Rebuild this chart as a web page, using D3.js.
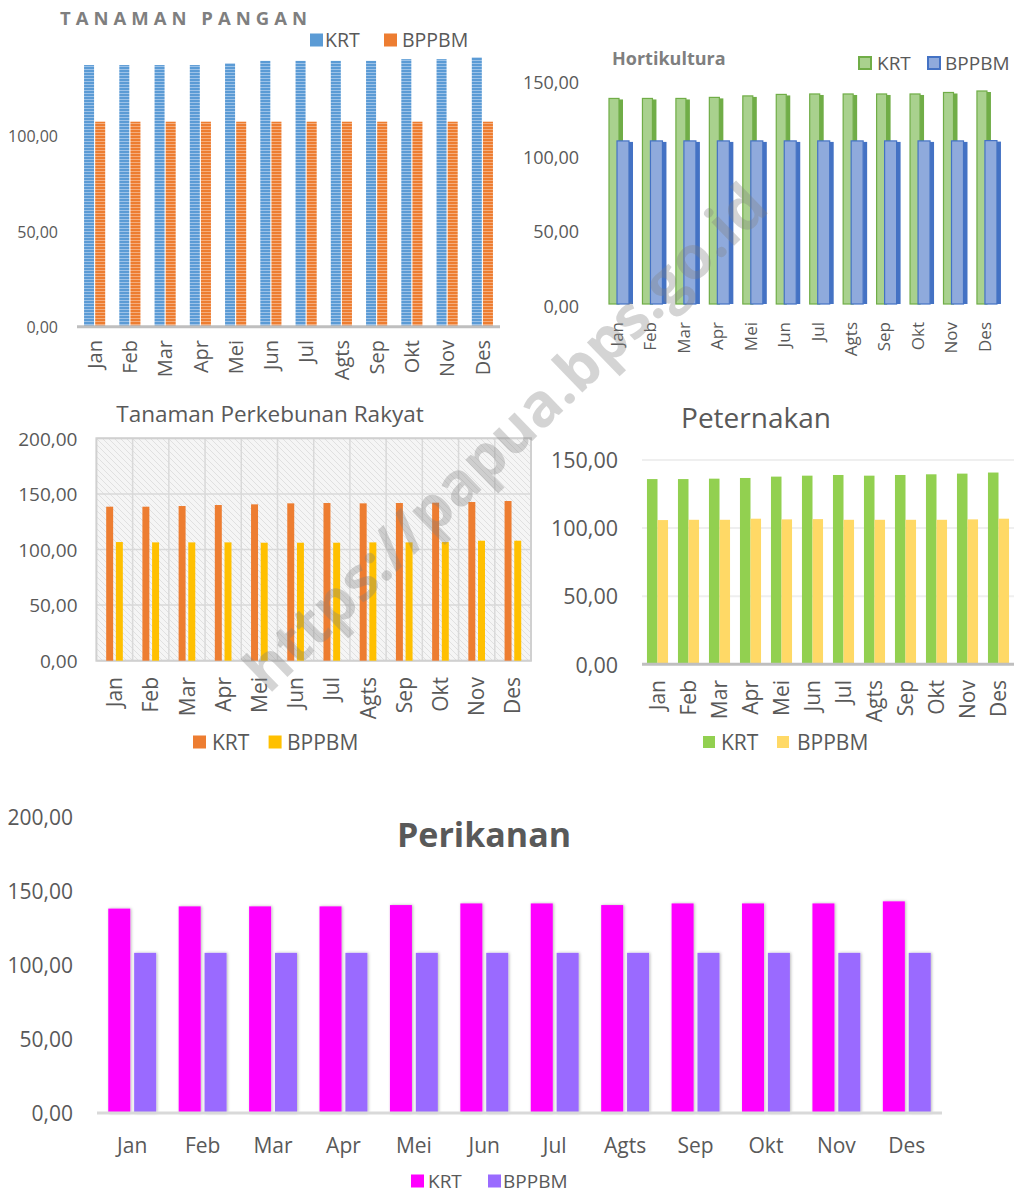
<!DOCTYPE html>
<html>
<head>
<meta charset="utf-8">
<script src="https://cdn.jsdelivr.net/npm/d3@7"></script>
<style>
  body { margin: 0; background: #fff; }
  svg { display: block; font-family: "Open Sans", sans-serif; }
</style>
</head>
<body>
<script>
'use strict'

const months = ['Jan', 'Feb', 'Mar', 'Apr', 'Mei', 'Jun', 'Jul', 'Agts', 'Sep', 'Okt', 'Nov', 'Des']
const series = ['KRT', 'BPPBM']

const panganKRT = [137.2, 137.2, 137.2, 137.2, 138.1, 139.4, 139.4, 139.4, 139.4, 140.3, 140.3, 141.2]
const panganBPPBM = [107.5, 107.5, 107.5, 107.5, 107.5, 107.5, 107.5, 107.5, 107.5, 107.5, 107.5, 107.5]
const panganTicks = [0, 50, 100]

const hortiKRT = [139.3, 139.3, 139.3, 140, 141, 142, 142.3, 142.3, 142.3, 142.3, 143.3, 144.3]
const hortiBPPBM = [110.8, 110.8, 110.8, 110.8, 110.8, 110.8, 110.8, 110.8, 110.8, 110.8, 110.8, 111]
const hortiTicks = [0, 50, 100, 150]

const kebunKRT = [138.5, 138.5, 139.1, 140, 140.6, 141.5, 141.8, 141.5, 141.8, 142.1, 142.7, 143.6]
const kebunBPPBM = [106.7, 106.4, 106.4, 106.4, 106.1, 106.1, 106.1, 106.4, 106.4, 106.7, 107.9, 107.9]
const kebunTicks = [0, 50, 100, 150, 200]

const ternakKRT = [136, 136, 136.3, 136.8, 137.8, 138.5, 139, 138.5, 139, 139.5, 140, 140.8]
const ternakBPPBM = [105.9, 106.1, 106.1, 106.9, 106.4, 106.6, 106.1, 106.1, 106.1, 106.1, 106.4, 106.9]
const ternakTicks = [0, 50, 100, 150]

const ikanKRT = [138.1, 139.6, 139.6, 139.6, 140.5, 141.6, 141.6, 140.5, 141.6, 141.6, 141.6, 143]
const ikanBPPBM = [108.2, 108.2, 108.2, 108.2, 108.2, 108.2, 108.2, 108.2, 108.2, 108.2, 108.2, 108.2]
const ikanTicks = [0, 50, 100, 150, 200]

const fmt = d3.formatLocale({ decimal: ',', thousands: '.', grouping: [3], currency: ['', ''] }).format('.2f')
const textColor = '#595959'

const svg = d3.select('body').append('svg')
    .attr('width', 1026)
    .attr('height', 1194)

const defs = svg.append('defs')

function stripes(id, base, line) {
  const p = defs.append('pattern')
      .attr('id', id)
      .attr('patternUnits', 'userSpaceOnUse')
      .attr('width', 4)
      .attr('height', 3)
  p.append('rect').attr('width', 4).attr('height', 3).attr('fill', base)
  p.append('rect').attr('width', 4).attr('height', 1).attr('fill', line)
}
stripes('stripeBlue', '#5b9bd5', '#9cc2e8')
stripes('stripeOrange', '#ed7d31', '#f5ad7c')

const hatch = defs.append('pattern')
    .attr('id', 'hatch')
    .attr('patternUnits', 'userSpaceOnUse')
    .attr('width', 6)
    .attr('height', 6)
hatch.append('rect').attr('width', 6).attr('height', 6).attr('fill', '#f5f5f5')
hatch.append('path')
    .attr('d', 'M0,0L6,6M-1,5L1,7M5,-1L7,1')
    .attr('stroke', '#e0e0e0')
    .attr('stroke-width', 1)

const soft = defs.append('filter')
    .attr('id', 'soft')
    .attr('x', '-40%').attr('y', '-10%')
    .attr('width', '180%').attr('height', '120%')
soft.append('feDropShadow')
    .attr('dx', 1).attr('dy', 0)
    .attr('stdDeviation', 1.6)
    .attr('flood-color', '#000')
    .attr('flood-opacity', 0.28)

function chart(cfg) {
  const g = svg.append('g')

  const cell = d3.scaleBand().domain(months).range([cfg.left, cfg.right])
  const x = d3.scaleBand().domain(months).range([cfg.left, cfg.right])
      .paddingInner(cfg.pad).paddingOuter(cfg.pad / 2)
  const xs = d3.scaleBand().domain(series).range([0, x.bandwidth()]).paddingInner(cfg.gap)
  const y = d3.scaleLinear().domain([0, cfg.max]).range([cfg.bottom, cfg.top])

  const rows = months.flatMap((m, i) => [
    { m, s: 'KRT', v: cfg.krt[i] },
    { m, s: 'BPPBM', v: cfg.bppbm[i] }
  ])

  if (cfg.background) cfg.background(g, cell, y)

  if (cfg.grid) {
    g.append('g').selectAll('line')
        .data(cfg.ticks.filter(t => t > 0))
      .join('line')
        .attr('x1', cfg.left).attr('x2', cfg.right)
        .attr('y1', y).attr('y2', y)
        .attr('stroke', cfg.grid)
        .attr('stroke-width', 2)
  }

  if (cfg.drawBars) {
    cfg.drawBars(g, cell, y, rows)
  } else {
    g.append('g').selectAll('rect')
        .data(rows)
      .join('rect')
        .attr('x', d => x(d.m) + xs(d.s))
        .attr('width', xs.bandwidth())
        .attr('y', d => y(d.v))
        .attr('height', d => y(0) - y(d.v))
        .attr('fill', d => cfg.fill[d.s])
        .attr('filter', cfg.filter || null)
  }

  if (cfg.baseline) {
    g.append('line')
        .attr('x1', cfg.left).attr('x2', cfg.right)
        .attr('y1', y(0)).attr('y2', y(0))
        .attr('stroke', cfg.baseline)
        .attr('stroke-width', 3)
  }

  const ya = g.append('g')
      .attr('transform', `translate(${cfg.labelX},0)`)
      .call(d3.axisLeft(y).tickValues(cfg.ticks).tickSize(0).tickPadding(0).tickFormat(fmt))
      .attr('font-family', null)
      .attr('font-size', null)
  ya.select('.domain').remove()
  ya.selectAll('text')
      .attr('fill', textColor)
      .attr('dy', '0.36em')
      .style('font-size', cfg.tickFont + 'px')

  const xa = g.append('g')
      .attr('transform', `translate(0,${cfg.xLabelY})`)
      .call(d3.axisBottom(cell).tickSize(0))
      .attr('font-family', null)
      .attr('font-size', null)
  xa.select('.domain').remove()
  const xt = xa.selectAll('text')
      .attr('fill', textColor)
      .style('font-size', cfg.xFont + 'px')
      .attr('x', 0)
      .attr('y', 0)
      .attr('dy', '0.36em')
  if (cfg.rotate) xt.attr('transform', 'rotate(-90)').attr('text-anchor', 'end')

  const t = cfg.title
  g.append('text')
      .attr('x', t.x)
      .attr('y', t.y)
      .attr('dy', '0.36em')
      .attr('text-anchor', t.anchor || 'start')
      .attr('fill', t.color || textColor)
      .style('font-size', t.size + 'px')
      .style('font-weight', t.weight || 400)
      .style('letter-spacing', (t.spacing || 0) + 'px')
      .text(t.text)

  const lg = cfg.legend
  const item = g.append('g').selectAll('g')
      .data(series)
    .join('g')
      .attr('transform', `translate(0,${lg.y})`)
  item.append('rect')
      .attr('x', (d, i) => lg.box[i])
      .attr('y', -lg.size / 2)
      .attr('width', lg.size)
      .attr('height', lg.size)
      .attr('fill', d => lg.fill ? lg.fill[d] : cfg.fill[d])
      .attr('stroke', d => lg.stroke ? lg.stroke[d] : null)
      .attr('stroke-width', 2)
  item.append('text')
      .attr('x', (d, i) => lg.text[i])
      .attr('dy', '0.36em')
      .attr('fill', textColor)
      .style('font-size', lg.font + 'px')
      .text(d => d)

  return g
}

// TANAMAN PANGAN
chart({
  krt: panganKRT, bppbm: panganBPPBM, ticks: panganTicks, max: 150,
  left: 77, right: 500, pad: 0.4, gap: 0.1,
  bottom: 326.7, top: 40.65,
  fill: { KRT: 'url(#stripeBlue)', BPPBM: 'url(#stripeOrange)' },
  baseline: '#bfbfbf',
  labelX: 58, tickFont: 16,
  xLabelY: 340, xFont: 20, rotate: true,
  title: { text: 'TANAMAN PANGAN', x: 60, y: 18, size: 18.5, weight: 700, spacing: 5, color: '#7f7f7f' },
  legend: { y: 40, size: 13, box: [310, 384], text: [325, 402], font: 19.5,
    fill: { KRT: '#5b9bd5', BPPBM: '#ed7d31' } }
})

// Hortikultura (3D look)
const hortiOff = { KRT: 9, BPPBM: 17 }
const hortiW = { KRT: 14, BPPBM: 16 }
const hortiFace = { KRT: '#a9d18e', BPPBM: '#8faadc' }
const hortiSide = { KRT: '#70ad47', BPPBM: '#4472c4' }
chart({
  krt: hortiKRT, bppbm: hortiBPPBM, ticks: hortiTicks, max: 150,
  left: 600, right: 1001.4, pad: 0, gap: 0,
  bottom: 306, top: 82.5,
  drawBars: (g, cell, y, rows) => {
    const bar = g.append('g').selectAll('g')
        .data(rows)
      .join('g')
    bar.append('rect')
        .attr('x', d => cell(d.m) + hortiOff[d.s])
        .attr('width', d => hortiW[d.s] - 4)
        .attr('y', d => y(d.v))
        .attr('height', d => y(0) - y(d.v) - 2)
        .attr('fill', d => hortiFace[d.s])
        .attr('stroke', d => hortiSide[d.s])
        .attr('stroke-width', 1.2)
    bar.append('rect')
        .attr('x', d => cell(d.m) + hortiOff[d.s] + hortiW[d.s] - 4)
        .attr('width', 4)
        .attr('y', d => y(d.v) + 1)
        .attr('height', d => y(0) - y(d.v) - 3)
        .attr('fill', d => hortiSide[d.s])
  },
  labelX: 579, tickFont: 18,
  xLabelY: 322, xFont: 17, rotate: true,
  title: { text: 'Hortikultura', x: 612, y: 59, size: 18, weight: 700, color: '#7f7f7f' },
  legend: { y: 63, size: 12, box: [859, 928], text: [877, 945], font: 19,
    fill: hortiFace, stroke: hortiSide }
})

// Tanaman Perkebunan Rakyat
chart({
  krt: kebunKRT, bppbm: kebunBPPBM, ticks: kebunTicks, max: 200,
  left: 96.4, right: 531, pad: 0.54, gap: 0.28,
  bottom: 660.7, top: 438.3,
  fill: { KRT: '#ed7d31', BPPBM: '#ffc000' },
  background: (g, cell, y) => {
    g.append('rect')
        .attr('x', cell.range()[0]).attr('y', y(200))
        .attr('width', cell.range()[1] - cell.range()[0])
        .attr('height', y(0) - y(200))
        .attr('fill', 'url(#hatch)')
    g.append('g').selectAll('line')
        .data(months.slice(1))
      .join('line')
        .attr('x1', d => cell(d)).attr('x2', d => cell(d))
        .attr('y1', y(200)).attr('y2', y(0))
        .attr('stroke', '#d9d9d9')
        .attr('stroke-width', 1.5)
    g.append('g').selectAll('line')
        .data(kebunTicks)
      .join('line')
        .attr('x1', cell.range()[0]).attr('x2', cell.range()[1])
        .attr('y1', y).attr('y2', y)
        .attr('stroke', '#d9d9d9')
        .attr('stroke-width', 1.5)
    g.append('rect')
        .attr('x', cell.range()[0]).attr('y', y(200))
        .attr('width', cell.range()[1] - cell.range()[0])
        .attr('height', y(0) - y(200))
        .attr('fill', 'none')
        .attr('stroke', '#d0d0d0')
        .attr('stroke-width', 2)
  },
  labelX: 77.5, tickFont: 19,
  xLabelY: 677, xFont: 21, rotate: true,
  title: { text: 'Tanaman Perkebunan Rakyat', x: 270, y: 414, size: 22.5, anchor: 'middle' },
  legend: { y: 742, size: 13, box: [193, 268.6], text: [212, 287], font: 21 }
})

// Peternakan
chart({
  krt: ternakKRT, bppbm: ternakBPPBM, ticks: ternakTicks, max: 150,
  left: 642, right: 1014, pad: 0.32, gap: 0,
  bottom: 664.3, top: 460,
  fill: { KRT: '#92d050', BPPBM: '#ffd966' },
  grid: '#efefef',
  baseline: '#bfbfbf',
  labelX: 618, tickFont: 21.5,
  xLabelY: 680, xFont: 21, rotate: true,
  title: { text: 'Peternakan', x: 756, y: 418, size: 28, anchor: 'middle' },
  legend: { y: 742, size: 12, box: [703, 777], text: [721, 797], font: 21 }
})

// Perikanan
chart({
  krt: ikanKRT, bppbm: ikanBPPBM, ticks: ikanTicks, max: 200,
  left: 97, right: 942, pad: 0.32, gap: 0.15,
  bottom: 1113, top: 817,
  fill: { KRT: '#ff00ff', BPPBM: '#9a6bff' },
  filter: 'url(#soft)',
  baseline: '#d9d9d9',
  labelX: 73, tickFont: 21,
  xLabelY: 1145, xFont: 21, rotate: false,
  title: { text: 'Perikanan', x: 484, y: 835, size: 34, weight: 700, anchor: 'middle' },
  legend: { y: 1181, size: 13, box: [411, 488], text: [428, 503], font: 19 }
})

// watermark
svg.append('text')
    .attr('transform', 'translate(505,437) rotate(-44)')
    .attr('text-anchor', 'middle')
    .attr('dy', '0.36em')
    .attr('fill', '#808080')
    .attr('opacity', 0.33)
    .style('font-size', '60px')
    .style('font-weight', 700)
    .text('https://papua.bps.go.id')
</script>
</body>
</html>
